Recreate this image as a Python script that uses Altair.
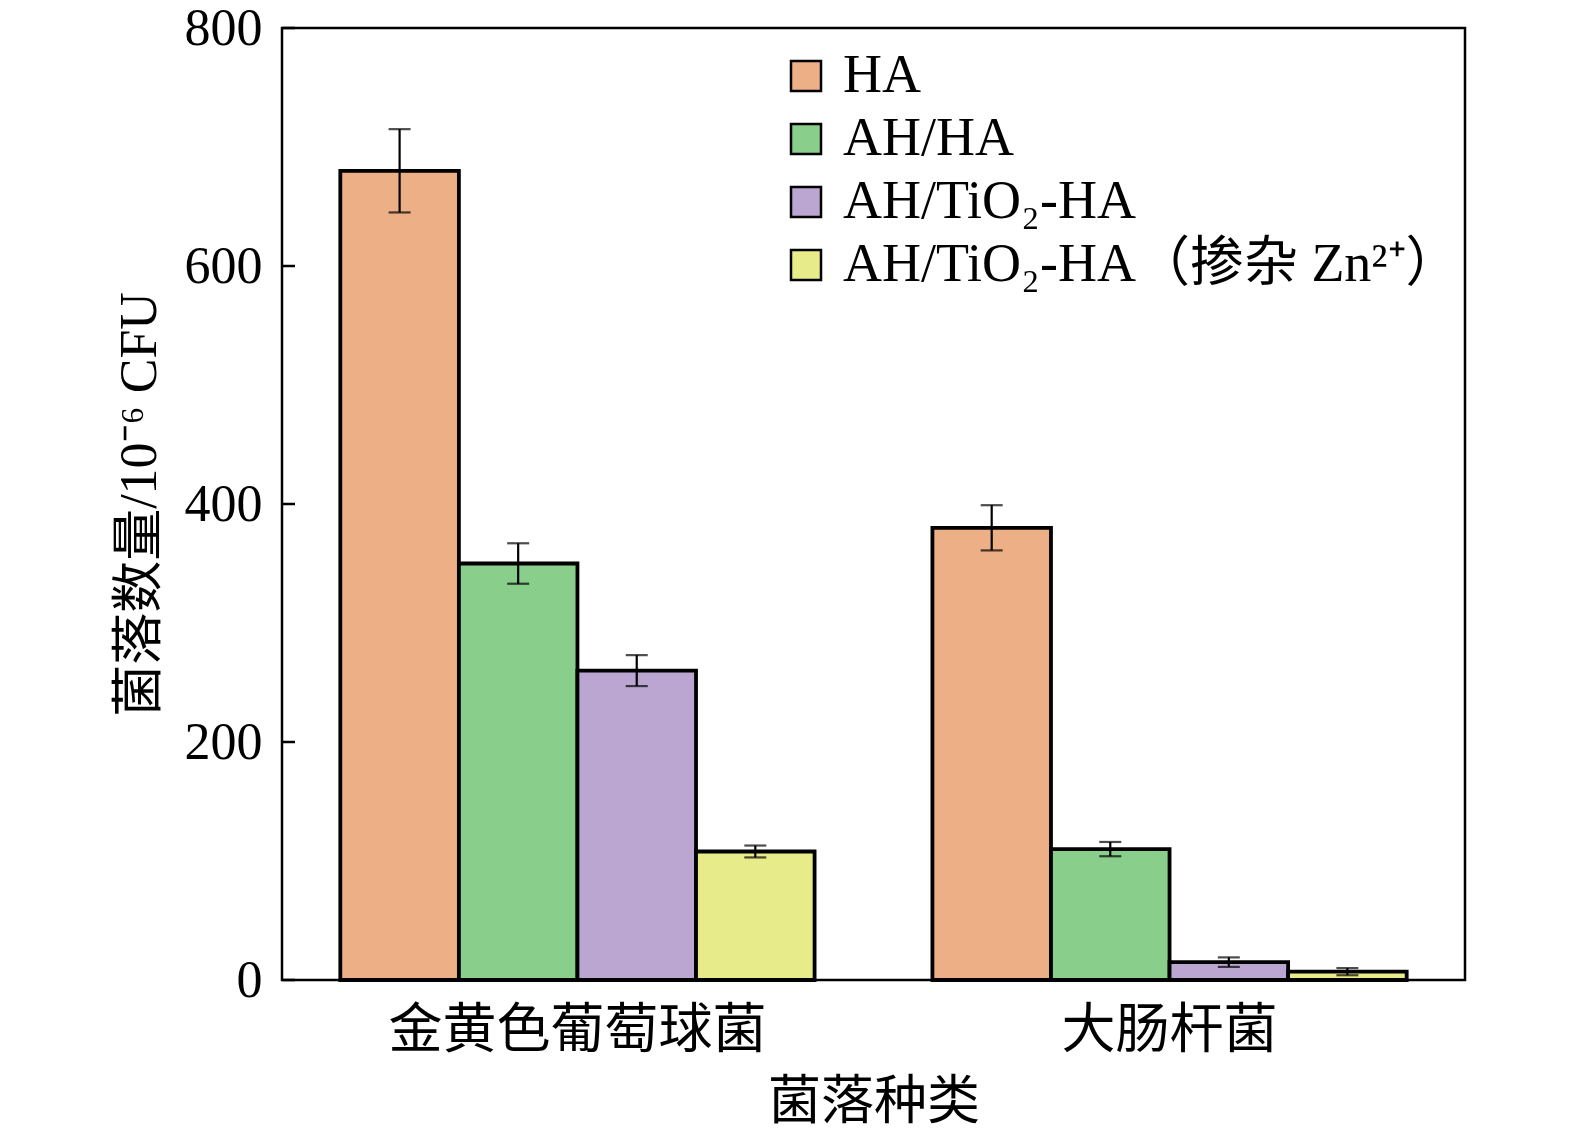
import altair as alt
import pandas as pd

# bar data
groups = ["金黄色葡萄球菌"] * 4 + ["大肠杆菌"] * 4
materials = ["HA", "AH/HA", "AH/TiO₂-HA", "AH/TiO₂-HA（掺杂 Zn²⁺）"] * 2
counts = [680, 350, 260, 108, 380, 110, 15, 7]
errs = [35, 17, 13, 5, 19, 6, 4, 3]

series = ["HA", "AH/HA", "AH/TiO₂-HA", "AH/TiO₂-HA（掺杂 Zn²⁺）"]
colors = ["#EDAF85", "#8ACE8B", "#BBA6D1", "#E8EB8A"]
group_order = ["金黄色葡萄球菌", "大肠杆菌"]
y_ticks = [0, 200, 400, 600, 800]

df = pd.DataFrame({"group": groups, "material": materials, "count": counts, "err": errs})
df["lo"] = df["count"] - df["err"]
df["hi"] = df["count"] + df["err"]

font = "Liberation Serif, Noto Sans CJK SC"

x = alt.X("group:N", sort=group_order, title="菌落种类",
          scale=alt.Scale(paddingInner=0.199, paddingOuter=0.0985),
          axis=alt.Axis(labelAngle=0, ticks=False, domain=False, labelPadding=24,
                        labelFontSize=54, titleFontSize=53, titlePadding=18,
                        labelLimit=1000, labelFont=font, titleFont=font,
                        labelColor="black", titleColor="black",
                        titleFontWeight="normal"))
xoff = alt.XOffset("material:N", sort=series, scale=alt.Scale(paddingInner=0, paddingOuter=0))
y = alt.Y("count:Q", title="菌落数量/10⁻⁶ CFU",
          scale=alt.Scale(domain=[0, 800], nice=False),
          axis=alt.Axis(values=y_ticks, grid=False, ticks=False, domain=False,
                        labelPadding=20, labelFontSize=52, titleFontSize=52,
                        titlePadding=18, labelFont=font, titleFont=font,
                        labelColor="black", titleColor="black",
                        titleFontWeight="normal"))

base = alt.Chart(df)

bars = base.mark_bar(stroke="black", strokeWidth=3.8).encode(
    x=x, xOffset=xoff, y=y,
    color=alt.Color("material:N", sort=series,
                    scale=alt.Scale(domain=series, range=colors),
                    legend=alt.Legend(title=None, orient="none", legendX=497, legendY=21,
                                      symbolType="square", symbolSize=900,
                                      symbolStrokeColor="black", symbolStrokeWidth=2.5,
                                      symbolOpacity=1,
                                      labelFontSize=54, labelFont=font, labelColor="black",
                                      labelLimit=900, rowPadding=9, labelOffset=10)),
)

err_rule = base.mark_rule(color="black", strokeWidth=2.2).encode(
    x=x, xOffset=xoff, y=alt.Y("lo:Q", title="菌落数量/10⁻⁶ CFU"), y2="hi:Q")
cap_lo = base.mark_tick(color="black", thickness=2.2, size=22).encode(
    x=x, xOffset=xoff, y=alt.Y("lo:Q", title="菌落数量/10⁻⁶ CFU"))
cap_hi = base.mark_tick(color="black", thickness=2.2, size=22).encode(
    x=x, xOffset=xoff, y=alt.Y("hi:Q", title="菌落数量/10⁻⁶ CFU"))

# inward ticks on the y axis
ticks = alt.Chart(pd.DataFrame({"count": y_ticks})).mark_rule(
    color="black", strokeWidth=2.5
).encode(x=alt.value(0), x2=alt.value(13), y=y)

chart = alt.layer(bars, err_rule, cap_lo, cap_hi, ticks).properties(
    width=1183, height=952,
    autosize=alt.AutoSizeParams(type="none"),
    padding={"left": 274, "top": 20, "right": 30, "bottom": 150},
).configure(background="white").configure_view(stroke="black", strokeWidth=2.5)

chart.save("out.html", embed_options={"renderer": "svg", "actions": False})
